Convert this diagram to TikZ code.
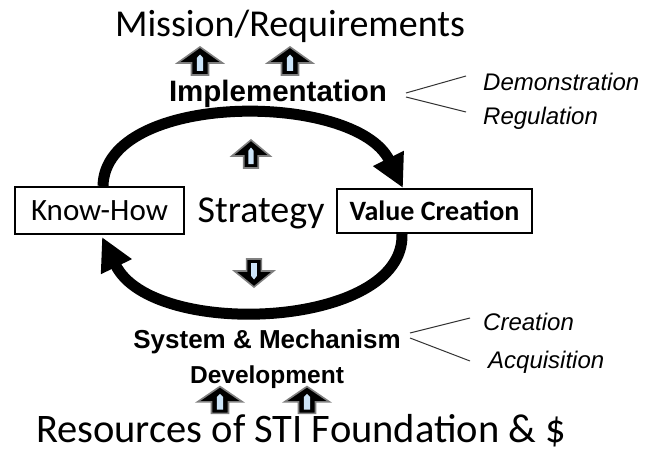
\documentclass[tikz,border=0pt]{standalone}
\usepackage{fontspec}
\setmainfont{Carlito}
\newfontfamily\arialfont{Liberation Sans}
\usetikzlibrary{arrows.meta}
\definecolor{arrowblue}{HTML}{CCE4F8}
\definecolor{rimgray}{HTML}{808080}

\tikzset{
  blockarrow/.pic={
    \path[fill=black, draw=rimgray, line width=1.6pt]
      (0,-14) -- (22.5,2) -- (8.5,2) -- (8.5,14) -- (-8.5,14) -- (-8.5,2) -- (-22.5,2) -- cycle;
    \path[fill=arrowblue] (-3.2,10) -- (3.2,10) -- (3.2,-3) -- (0,-6.5) -- (-3.2,-3) -- cycle;
  },
  titletext/.style={font=\fontsize{38}{40}\selectfont, inner sep=0pt, anchor=base},
  headtext/.style={font=\arialfont\bfseries\fontsize{26}{30}\selectfont, inner sep=0pt, anchor=base},
  sidetext/.style={font=\arialfont\itshape\fontsize{24}{27}\selectfont, inner sep=0pt, anchor=base west},
  cyclebox/.style={draw=black, line width=2pt, inner sep=0pt},
  cyclearrow/.style={line width=11pt, -{Triangle[length=33pt,width=32pt]}},
  forkline/.style={draw=black!80, line width=1pt},
}

\begin{document}
\begin{tikzpicture}[x=1pt, y=-1pt]
  \useasboundingbox (0,0) rectangle (648,452);

  % headings
  \node[titletext] (mission) at (290,37) {Mission/Requirements};
  \node[headtext, font=\arialfont\bfseries\fontsize{29.5}{32}\selectfont] (impl) at (278,102) {Implementation};
  \node[headtext] (sys) at (267,348) {System \& Mechanism};
  \node[headtext, font=\arialfont\bfseries\fontsize{24.5}{28}\selectfont] (dev) at (267,383) {Development};
  \node[titletext, font=\fontsize{40.5}{43}\selectfont] (res) at (301,442) {Resources of STI Foundation \& \$};

  % the cycle
  \node[cyclebox, minimum width=169pt, minimum height=47pt,
        font=\fontsize{31}{34}\selectfont] (kh) at (99.5,210.5) {Know-How};
  \node[cyclebox, minimum width=195pt, minimum height=44pt,
        font=\bfseries\fontsize{28}{31}\selectfont] (vc) at (434.5,211) {Value Creation};
  \node[font=\fontsize{38}{41}\selectfont, inner sep=0pt, anchor=base] (strat) at (261,222) {Strategy};

  \draw[cyclearrow] ([xshift=3.5pt]kh.north) .. controls +(2,-95) and +(-48,-97) .. ([xshift=-31.5pt]vc.north);
  \draw[cyclearrow] ([xshift=-32.5pt]vc.south) .. controls +(3,95) and +(50,103) .. ([xshift=2.5pt,yshift=-2pt]kh.south);

  % block arrows
  \pic at (200,61) {blockarrow};
  \pic at (290,61) {blockarrow};
  \pic[xscale=0.85] at (251,154) {blockarrow};
  \pic[xscale=0.87, yscale=-1] at (254,273) {blockarrow};
  \pic[yscale=0.96] at (220,400) {blockarrow};
  \pic[yscale=0.96] at (307,400) {blockarrow};

  % side labels with forks
  \node[sidetext] (demo) at (483,90) {Demonstration};
  \node[sidetext] (regu) at (483,124) {Regulation};
  \node[sidetext] (crea) at (483,330) {Creation};
  \node[sidetext] (acqu) at (488,368) {Acquisition};

  \coordinate (fa) at (406,93);
  \coordinate (fb) at (406,97);
  \coordinate (fc) at (410,333);
  \coordinate (fd) at (410,338);
  \coordinate (ta) at (466,76);
  \coordinate (tb) at (466,112);
  \coordinate (tc) at (470,318);
  \coordinate (td) at (470,361);
  \draw[forkline] (fa) -- (ta);
  \draw[forkline] (fb) -- (tb);
  \draw[forkline] (fc) -- (tc);
  \draw[forkline] (fd) -- (td);
\end{tikzpicture}
\end{document}
